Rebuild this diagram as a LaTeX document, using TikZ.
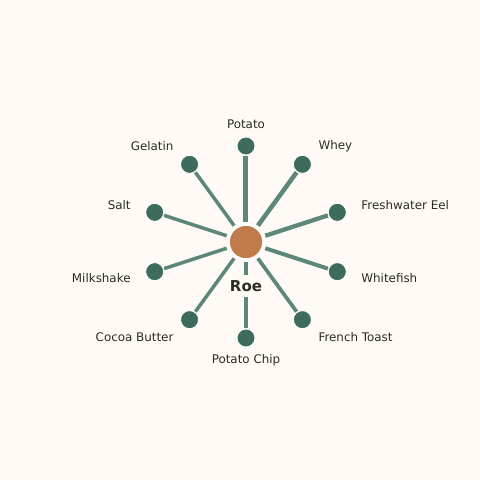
\documentclass[tikz,border=0pt]{standalone}
\usepackage{fontspec}
\setmainfont{DejaVu Sans}
\usetikzlibrary{calc}

\definecolor{paper}{HTML}{FFFAF6}
\definecolor{leaf}{HTML}{3D6B5C}
\definecolor{stem}{HTML}{5D8776}
\definecolor{roecol}{HTML}{C17A4A}
\definecolor{ink}{HTML}{2E2A26}

\tikzset{
  hub/.style={circle, fill=roecol, draw=white, line width=1.5pt, minimum size=34pt, inner sep=0pt},
  food/.style={circle, fill=leaf, draw=white, line width=0.8pt, minimum size=18pt, inner sep=0pt},
  spoke/.style={draw=stem, shorten <=2.5pt, shorten >=0.5pt},
  foodlabel/.style={text=ink, font=\fontsize{11.9}{13}\selectfont, inner sep=3pt},
}

\begin{document}
\begin{tikzpicture}[x=1pt, y=1pt]
  % canvas
  \fill[paper] (-246,-238) rectangle (234,242);
  \useasboundingbox (-246,-238) rectangle (234,242);

  \node[hub] (roe) at (0,0) {};

  % ingredients round the hub
  \foreach \ang/\lw/\id/\txt/\anc in {
      90/5.0/potato/Potato/center,
      54/4.5/whey/Whey/west,
      18/4.3/eel/Freshwater Eel/west,
      -18/4.0/whitefish/Whitefish/west,
      -54/3.7/toast/French Toast/west,
      -90/3.5/chip/Potato Chip/center,
      -126/3.5/cocoa/Cocoa Butter/east,
      -162/3.5/milkshake/Milkshake/east,
      162/3.5/salt/Salt/east,
      126/3.5/gelatin/Gelatin/east} {
    \node[food] (\id) at (\ang:96) {};
    \node[foodlabel, anchor=\anc] (\id_lab) at (\ang:118) {\txt};
    \draw[spoke, line width=\lw pt] (roe) -- (\id);
  }

  % centre label, covers the lower spoke
  \node[fill=paper, text=ink, font=\bfseries\fontsize{15}{17}\selectfont,
        inner sep=2pt, minimum height=22pt] (roe_lab) at (0,-44) {Roe};
\end{tikzpicture}
\end{document}
